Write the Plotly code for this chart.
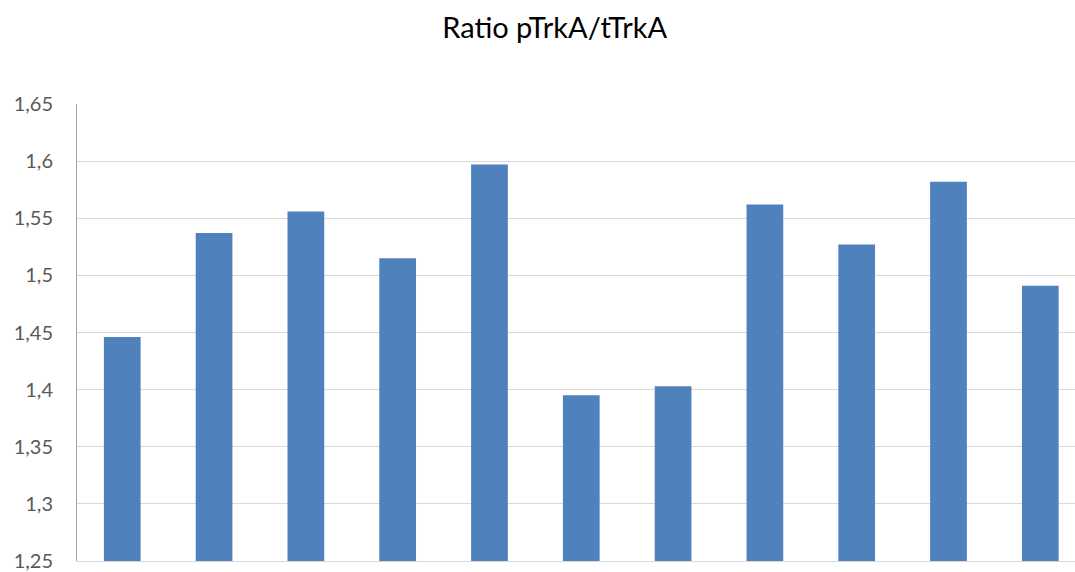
import plotly.graph_objects as go

# Ratio of phosphorylated to total TrkA per sample
samples = [1, 2, 3, 4, 5, 6, 7, 8, 9, 10, 11]
ratios = [1.446, 1.537, 1.556, 1.515, 1.597, 1.395, 1.403, 1.562, 1.527, 1.582, 1.491]

y_tick_values = [1.25, 1.3, 1.35, 1.4, 1.45, 1.5, 1.55, 1.6, 1.65]
y_tick_labels = ["1,25", "1,3", "1,35", "1,4", "1,45", "1,5", "1,55", "1,6", "1,65"]

fig = go.Figure(
    go.Bar(
        x=[str(s) for s in samples],
        y=ratios,
        marker=dict(color="#4F81BD", line=dict(width=0)),
        hoverinfo="y",
    )
)

fig.update_layout(
    width=1075,
    height=572,
    margin=dict(l=77, r=0, t=104, b=11),
    paper_bgcolor="white",
    plot_bgcolor="white",
    bargap=0.6,
    showlegend=False,
    title=dict(
        text="Ratio pTrkA/tTrkA",
        x=0.516,
        xanchor="center",
        y=1 - 28 / 572,
        yanchor="middle",
        yref="container",
        font=dict(family="Lato, Open Sans, sans-serif", size=29, color="#000000"),
    ),
)

fig.update_xaxes(
    type="category",
    range=[-0.493, 10.378],
    showticklabels=False,
    showgrid=False,
    showline=True,
    linecolor="#D9D9D9",
    linewidth=1,
    ticks="",
)

fig.update_yaxes(
    range=[1.25, 1.65],
    tickvals=y_tick_values,
    ticktext=y_tick_labels,
    showgrid=True,
    gridcolor="#D9D9D9",
    gridwidth=1,
    zeroline=False,
    showline=True,
    linecolor="#A6A6A6",
    linewidth=1,
    ticks="outside",
    ticklen=0,
    tickcolor="white",
    ticklabelstandoff=19,
    tickfont=dict(family="Lato, Open Sans, sans-serif", size=20, color="#595959"),
)

fig.write_html("out.html")
